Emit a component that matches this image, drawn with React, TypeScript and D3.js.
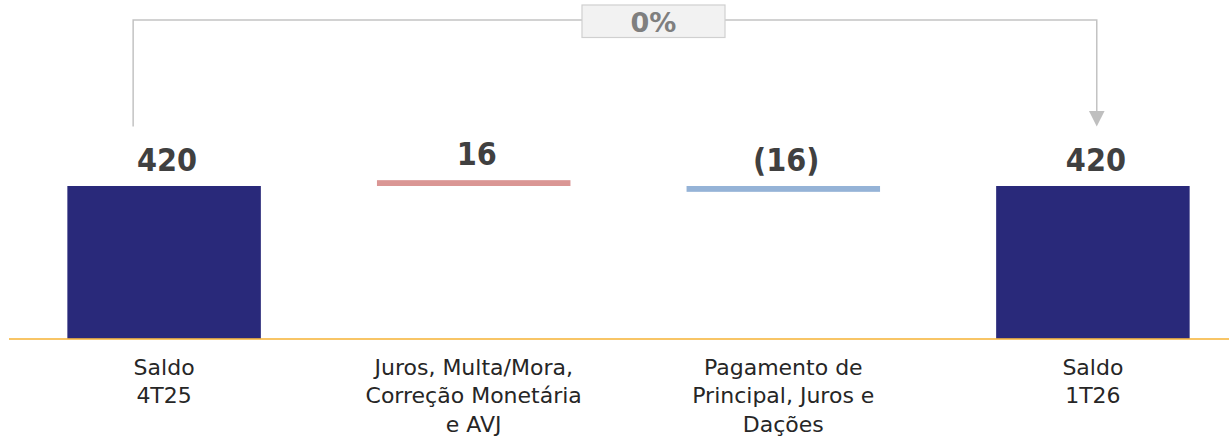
import React from "react";
import * as d3 from "d3";

const categories: string[][] = [
  ["Saldo", "4T25"],
  ["Juros, Multa/Mora,", "Correção Monetária", "e AVJ"],
  ["Pagamento de", "Principal, Juros e", "Dações"],
  ["Saldo", "1T26"],
];
const keys = ["s0", "juros", "pag", "s1"];
const segLow = [0, 420, 404, 0];
const segHigh = [420, 436, 420, 420];
const valueLabels = ["420", "16", "(16)", "420"];
const barColors = ["#29297a", "#da9694", "#95b3d7", "#29297a"];
const variationLabel = "0%";

const W = 1229;
const H = 440;

export default function App() {
  const x = d3
    .scaleBand<string>()
    .domain(keys)
    .range([9, 1248])
    .paddingInner(0.375)
    .paddingOuter(0.1885);
  const y = d3.scaleLinear().domain([0, 420]).range([339, 186]);
  const bw = x.bandwidth();

  const bx0 = (x(keys[0]) as number) + bw * 0.34;
  const bx1 = (x(keys[3]) as number) + bw * 0.52;
  const by = 20;
  const bBottom = 126.5;
  const boxCx = 653.5;
  const boxW = 143;
  const boxH = 32.5;

  const lineColor = "#c3c3c3";

  return (
    <svg
      width={W}
      height={H}
      style={{ position: "absolute", left: 0, top: 0, background: "#fff" }}
    >
      {/* bars */}
      {keys.map((k, i) => (
        <rect
          key={k}
          x={x(k)}
          y={y(segHigh[i])}
          width={bw}
          height={y(segLow[i]) - y(segHigh[i])}
          fill={barColors[i]}
        />
      ))}
      {/* axis line */}
      <line
        x1={x.range()[0]}
        x2={x.range()[1]}
        y1={y(0)}
        y2={y(0)}
        stroke="#f6b640"
        strokeOpacity={0.8}
        strokeWidth={2}
      />
      {/* value labels */}
      {keys.map((k, i) => (
        <text
          key={k + "v"}
          x={(x(k) as number) + bw / 2 + 3}
          y={y(segHigh[i]) - 15}
          textAnchor="middle"
          fontFamily="'DejaVu Sans Condensed', 'DejaVu Sans', sans-serif"
          fontStretch="condensed"
          fontWeight="bold"
          fontSize={32}
          fill="#404040"
        >
          {valueLabels[i]}
        </text>
      ))}
      {/* category labels */}
      {keys.map((k, i) => (
        <text
          key={k + "c"}
          x={(x(k) as number) + bw / 2}
          y={375}
          textAnchor="middle"
          fontFamily="'DejaVu Sans', sans-serif"
          fontSize={22}
          fill="#262626"
        >
          {categories[i].map((line, j) => (
            <tspan key={j} x={(x(k) as number) + bw / 2} dy={j === 0 ? 0 : 28.3}>
              {line}
            </tspan>
          ))}
        </text>
      ))}
      {/* bracket */}
      <path
        d={`M${bx0},${bBottom} V${by} H${bx1} V${bBottom - 15}`}
        fill="none"
        stroke={lineColor}
        strokeWidth={1.5}
      />
      <path
        d={`M${bx1 - 7.8},${bBottom - 15.5} L${bx1 + 7.8},${bBottom - 15.5} L${bx1},${bBottom} Z`}
        fill="#bfbfbf"
      />
      <rect
        x={boxCx - boxW / 2}
        y={by - 15}
        width={boxW}
        height={boxH}
        fill="#f2f2f2"
        stroke="#d0d0d0"
        strokeWidth={1.2}
      />
      <text
        x={boxCx}
        y={32}
        textAnchor="middle"
        fontFamily="'DejaVu Sans', sans-serif"
        fontWeight="bold"
        fontSize={27}
        fill="#7f7f7f"
      >
        {variationLabel}
      </text>
    </svg>
  );
}
